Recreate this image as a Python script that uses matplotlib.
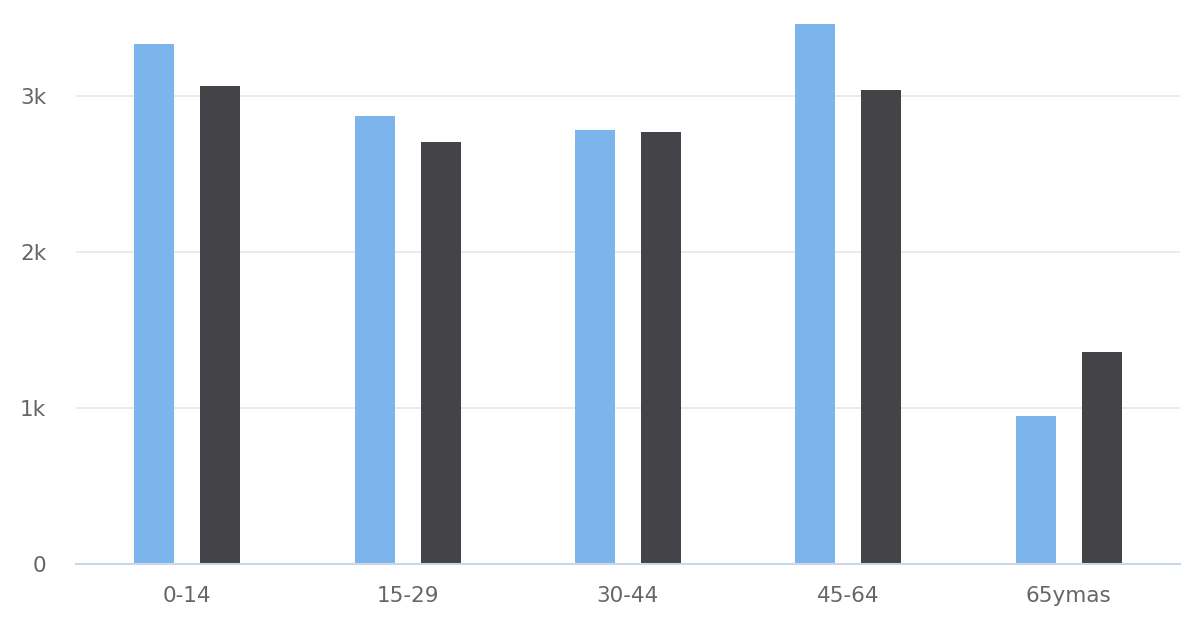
"""
grouped bar chart - population by age group
"""
import numpy as np
import matplotlib
matplotlib.use("Agg")
import matplotlib.pyplot as plt
from matplotlib.ticker import FuncFormatter

# data
categories = ["0-14", "15-29", "30-44", "45-64", "65ymas"]
serie_a = [3333, 2872, 2782, 3462, 949]
serie_b = [3064, 2705, 2769, 3038, 1359]

color_a = "#7cb5ec"
color_b = "#434348"

fig = plt.figure(figsize=(12, 6.4), dpi=100)
# plot area: x 76..1180 px, y 10..564 px
ax = fig.add_axes([76 / 1200, (640 - 564) / 640, 1104 / 1200, 554 / 640])

x = np.arange(len(categories))
bar_w = 40 / 220.8
off = 33 / 220.8
ax.bar(x - off, serie_a, width=bar_w, color=color_a, zorder=3)
ax.bar(x + off, serie_b, width=bar_w, color=color_b, zorder=3)

ax.set_xlim(-0.505, len(categories) - 0.495)
ax.set_ylim(0, 3551)

# y axis
ax.set_yticks([0, 1000, 2000, 3000])
ax.yaxis.set_major_formatter(FuncFormatter(lambda v, p: "0" if v == 0 else f"{int(v / 1000)}k"))
ax.grid(True, axis="y", color="#e6e6e6", linewidth=1.2, zorder=0)
ax.set_xticks(x)
ax.set_xticklabels(categories)

ax.tick_params(axis="y", length=0, pad=21.5, labelsize=15.5, labelcolor="#666666")
ax.tick_params(axis="x", length=0, pad=16, labelsize=15.5, labelcolor="#666666")

for s in ["top", "right", "left"]:
    ax.spines[s].set_visible(False)
ax.spines["bottom"].set_color("#ccd6eb")
ax.spines["bottom"].set_linewidth(1.5)
ax.spines["bottom"].set_zorder(4)

fig.savefig("out.png", dpi=100)
